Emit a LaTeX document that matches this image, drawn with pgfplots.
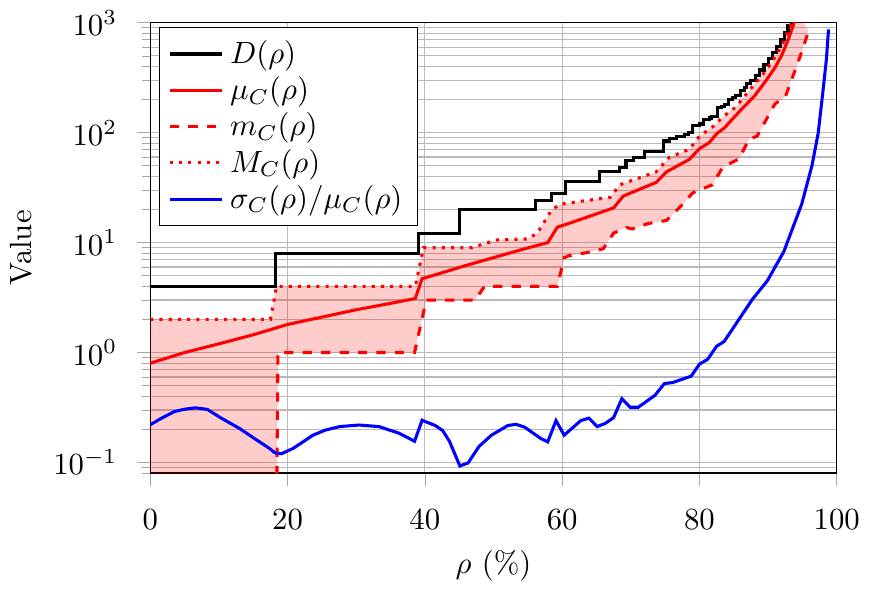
\documentclass[border=0pt]{standalone}
\usepackage{pgfplots}
\pgfplotsset{compat=1.18}
\usepgfplotslibrary{fillbetween}

\begin{document}
\begin{tikzpicture}
\begin{axis}[
  scale only axis,
  width=7.85cm, height=5.15cm,
  ymode=log,
  xmin=0, xmax=100,
  ymin=0.08, ymax=1000,
  xtick={0,20,40,60,80,100},
  grid=both,
  grid style={gray!55, thin},
  tick align=outside,
  tick pos=left,
  tick style={gray!70},
  xticklabel style={yshift=-4pt},
  yticklabel style={xshift=-3pt},
  xlabel={$\rho$ (\%)},
  ylabel={Value},
  every axis plot/.append style={line width=1pt},
  legend cell align=left,
  legend style={at={(0.012,0.99)}, anchor=north west, draw=black, fill=white,
                row sep=-1.2pt},
]
  % D(rho): staircase
  \addplot[black, const plot] coordinates {
    (0,4)(18.2,8)(39.1,12)(45.1,20)(56.1,24)(58.4,28)(60.5,36)(65.4,44)
    (68.4,48)(69.3,56)(70.4,60)(72,68)(74.8,84)(75.6,88)(76.6,92)(77.8,96)
    (78.4,100)(79.0,116)(80.0,120)(80.6,132)(81.4,136)(81.8,140)(82.6,168)(83.2,172)(83.6,180)
    (84.3,200)(84.8,208)(85.3,220)(86.0,244)(86.5,260)(86.9,280)(87.4,296)(88.2,332)(88.8,372)
    (89.4,420)(90.0,472)(90.6,536)(91.2,612)(91.8,700)(92.4,812)(92.9,940)
    (93.4,1100)(94,1300)
  };
  \addlegendentry{$D(\rho)$}

  % mean
  \addplot[red] coordinates {
    (0,0.8)(5,1.0)(10,1.2)(15,1.45)(20,1.8)(25,2.1)(30,2.45)(35,2.8)
    (38.6,3.1)(39.6,4.7)(42,5.2)(46,6.2)(50,7.3)(54,8.6)(57.9,10)
    (59.3,13.8)(63,16.5)(67.5,20.7)(68.9,26.5)(73.7,35.3)(75.2,44)
    (78.5,57)(80,71.5)(81.4,81)(82.6,99)(83.6,110)(86,160)(88,215)
    (89.6,292)(91,390)(92,508)(93,720)(93.7,960)(94.3,1250)
  };
  \addlegendentry{$\mu_C(\rho)$}

  % min
  \addplot[red, dashed, name path=m] coordinates {
    (0,0.001)(18.2,0.001)(18.6,1)(38.5,1)(40.2,3)(47.3,3)(48.7,4)(59.3,4)
    (60.3,7.3)(61,7.6)(63.6,8.1)(66,8.8)(67.5,12.2)(69.4,13.7)(70.2,13.3)
    (72.5,14.9)(75.2,15.9)(77.6,22.4)(79,28.3)(81.9,33.6)(83.4,48.6)
    (85.8,58)(87.2,87)(88.4,93)(91,183)(92.5,211)(94.4,442)(95.9,840)
  };
  \addlegendentry{$m_C(\rho)$}

  % max
  \addplot[red, dotted, name path=M] coordinates {
    (0,2)(17.5,2)(18.4,4)(38.6,4)(39.8,9)(46.8,9)(50.6,10.6)(55,10.8)
    (56.4,12.2)(58.5,20)(59.8,22.4)(62.6,23.7)(67,25.8)(68.4,33.6)
    (73.7,44)(75.6,59.6)(78.5,70.5)(80,93)(82,114)(83.4,139)(85.3,171)
    (87.2,240)(89.2,337)(90.6,442)(92,620)(93.2,930)(94.2,1300)
  };
  \addlegendentry{$M_C(\rho)$}

  \addplot[fill=red, fill opacity=0.2, draw=none, forget plot]
    fill between[of=M and m];

  % coefficient of variation
  \addplot[blue] coordinates {
    (0,0.22)(1.5,0.25)(3.5,0.29)(5,0.305)(6.6,0.314)(8.3,0.304)(10.2,0.256)
    (13.1,0.202)(15.5,0.16)(17.3,0.135)(18.2,0.122)(19.1,0.12)(20.8,0.134)
    (23.7,0.177)(25.5,0.197)(27.6,0.212)(30.4,0.219)(33.3,0.212)(36.2,0.185)
    (38.5,0.156)(39.6,0.242)(41.5,0.217)(42.6,0.195)(43.6,0.155)(45.1,0.093)
    (46.3,0.099)(47.9,0.14)(49.7,0.177)(52.1,0.217)(53.3,0.222)(54.5,0.21)
    (56.9,0.165)(57.9,0.154)(59.1,0.24)(60.3,0.177)(62.7,0.24)(63.9,0.253)
    (65.1,0.212)(66.3,0.227)(67.5,0.256)(68.7,0.38)(69.9,0.318)(71.1,0.318)
    (73.5,0.407)(74.9,0.522)(76.1,0.533)(78.8,0.61)(80,0.784)(81.2,0.868)
    (82.5,1.14)(83.6,1.26)(85.8,2.02)(87.7,3.04)(89.9,4.5)(92.3,8.3)
    (94.9,22.4)(96.4,50.4)(97.3,99)(98,240)(98.5,467)(98.8,870)
  };
  \addlegendentry{$\sigma_C(\rho)/\mu_C(\rho)$}
\end{axis}
\end{tikzpicture}
\end{document}
